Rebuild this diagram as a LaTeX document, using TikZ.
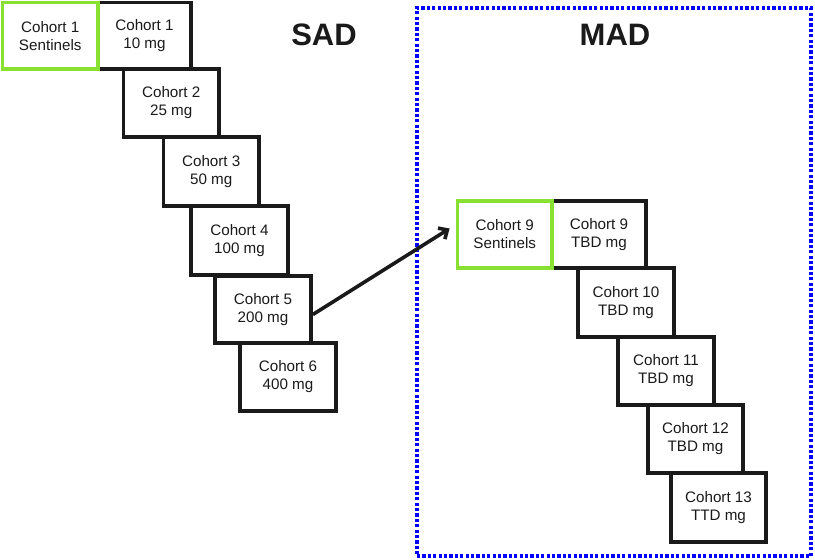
\documentclass[tikz,border=0pt]{standalone}
\usepackage{fontspec}
\setmainfont{Liberation Sans}
\usetikzlibrary{arrows.meta,calc}
\definecolor{sentgreen}{RGB}{135,224,50}
\definecolor{ink}{RGB}{26,26,26}
\tikzset{
  cbox/.style={draw=ink, line width=3.8pt, rectangle, inner sep=0pt, align=center,
    text=ink, font=\fontsize{15.2}{18}\selectfont},
  sbox/.style={cbox, draw=sentgreen},
  phase/.style={font=\fontsize{31}{36}\selectfont\bfseries, text=ink, anchor=base, inner sep=0pt},
  arr/.style={draw=ink, line width=3.6pt, -{Straight Barb[length=7pt,width=13pt]}},
  madframe/.style={draw=blue, line width=3.4pt, dash pattern=on 3.2pt off 2.2pt}
}
\newcommand{\cohortbox}[7]{%
  \node[#1, minimum width={(#5-#3)*1pt}, minimum height={(#6-#4)*1pt}] (#2) at ({(#3+#5)/2},{(#4+#6)/2}) {#7};}
\begin{document}
\begin{tikzpicture}[x=1pt,y=-1pt]
\useasboundingbox (0,0) rectangle (815,560);
% MAD frame
\node[madframe, minimum width=394pt, minimum height=548pt, inner sep=0pt] (mad) at (614,282) {};
% SAD boxes
\cohortbox{cbox}{c1}{98}{2.5}{191}{69}{Cohort 1\\10 mg}
\cohortbox{cbox}{c2}{123.5}{69}{219}{137}{Cohort 2\\25 mg}
\cohortbox{cbox}{c3}{163.5}{137}{259}{206}{Cohort 3\\50 mg}
\cohortbox{cbox}{c4}{191}{206}{288}{275}{Cohort 4\\100 mg}
\cohortbox{cbox}{c5}{215}{276}{311}{343}{Cohort 5\\200 mg}
\cohortbox{cbox}{c6}{240}{343}{336}{411}{Cohort 6\\400 mg}
\cohortbox{sbox}{s1}{2.5}{2.5}{98}{69}{Cohort 1\\Sentinels}
% MAD boxes
\cohortbox{cbox}{c9}{552}{201}{646}{268}{Cohort 9\\TBD mg}
\cohortbox{cbox}{c10}{578}{268}{674}{337}{Cohort 10\\TBD mg}
\cohortbox{cbox}{c11}{618}{337}{714}{405}{Cohort 11\\TBD mg}
\cohortbox{cbox}{c12}{648}{405}{743}{473}{Cohort 12\\TBD mg}
\cohortbox{cbox}{c13}{671}{473}{766}{542}{Cohort 13\\TTD mg}
\cohortbox{sbox}{s9}{457.5}{201}{552}{268}{Cohort 9\\Sentinels}
% labels
\node[phase] (sad) at (324,45) {SAD};
\node[phase] (madlbl) at (615,45) {MAD};
% arrow
\coordinate (a0) at ($(c5.east)+(0,5)$);
\coordinate (a1) at ($(s9.west)+(-6,-6)$);
\draw[arr] (a0) -- (a1);
\end{tikzpicture}
\end{document}
